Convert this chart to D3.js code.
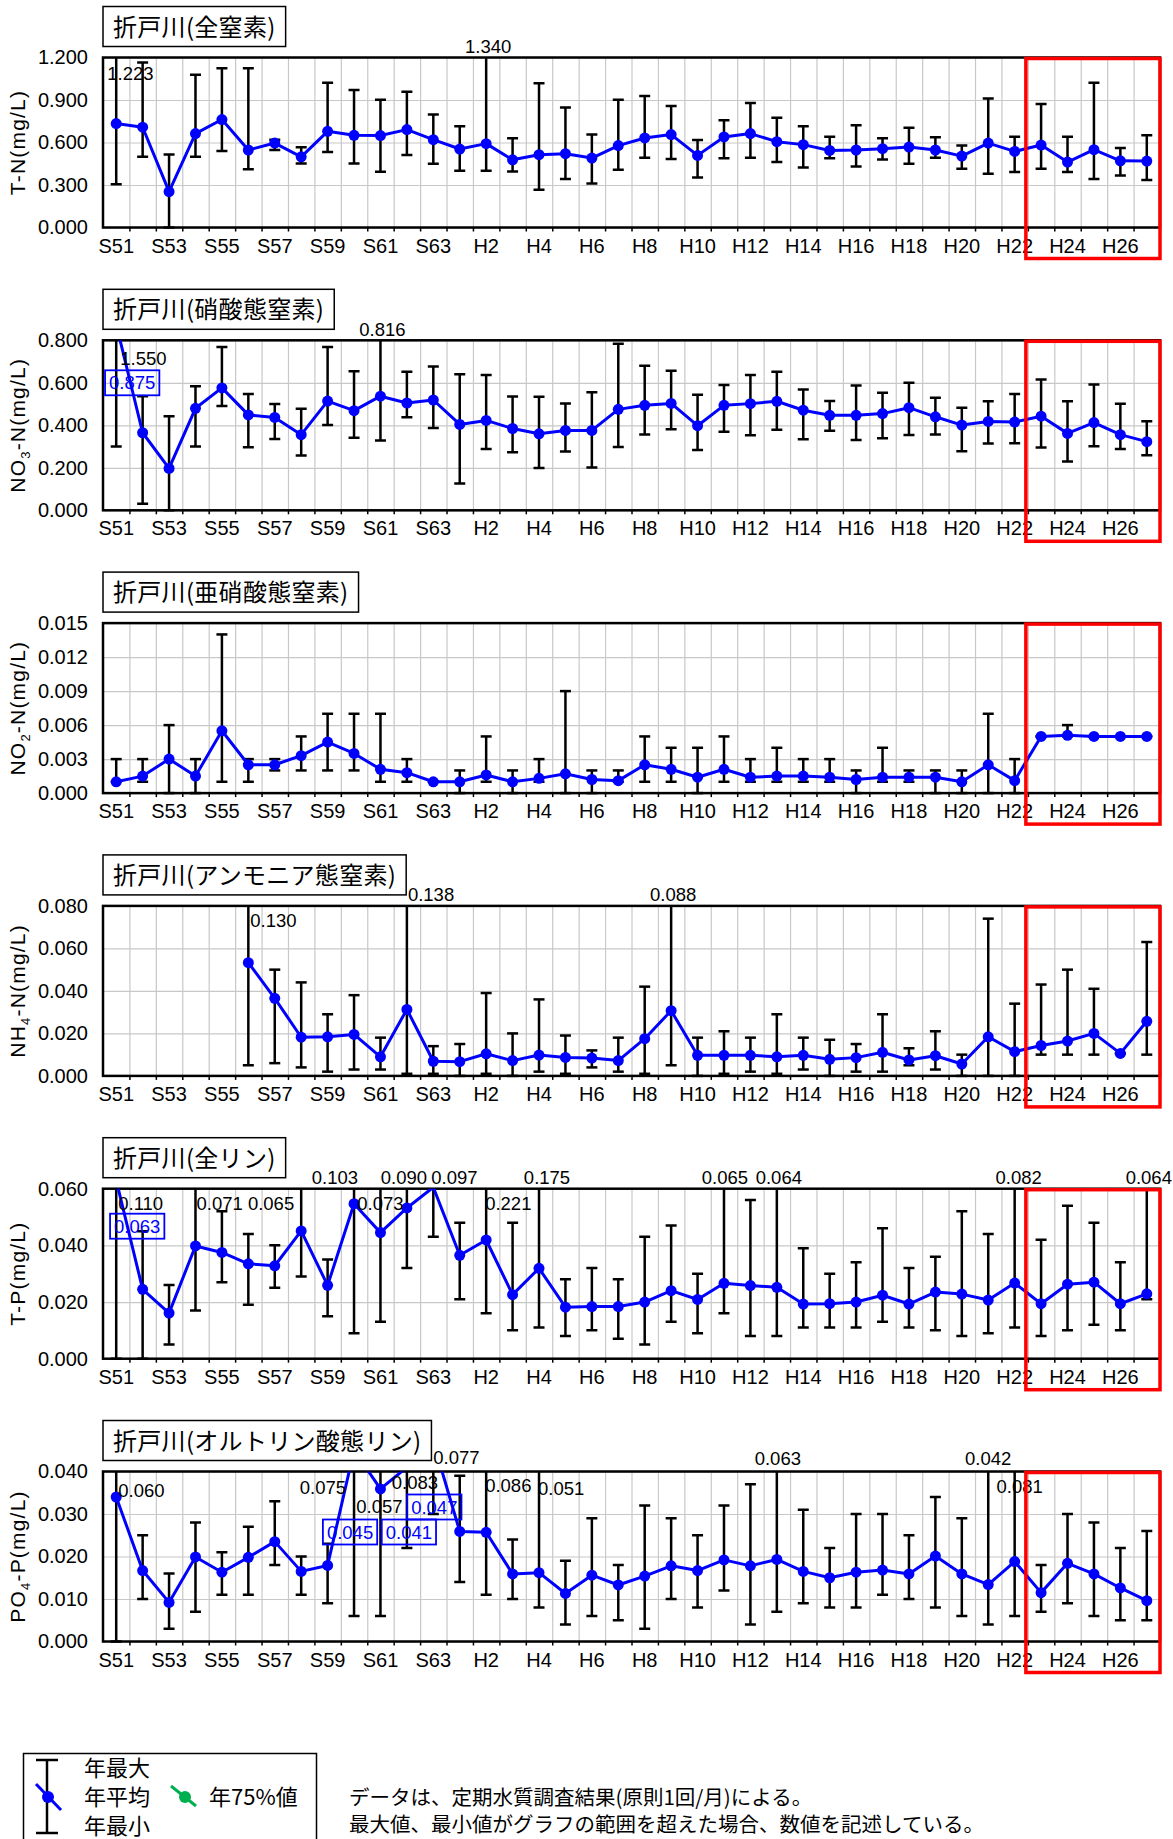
<!DOCTYPE html>
<html>
<head>
<meta charset="UTF-8" />
<title>折戸川 水質経年変化</title>
<script src="https://cdn.jsdelivr.net/npm/d3@7"></script>
<style>
body { margin: 0; background: #fff; }
</style>
</head>
<body>
<svg id="chart" width="1173" height="1839"></svg>

<script type="text/javascript">
// years on the x axis (S = 昭和, H = 平成)
const years = ["S51","S52","S53","S54","S55","S56","S57","S58","S59","S60","S61","S62","S63",
  "H1","H2","H3","H4","H5","H6","H7","H8","H9","H10","H11","H12","H13","H14","H15","H16","H17",
  "H18","H19","H20","H21","H22","H23","H24","H25","H26","H27"]
const xTickLabels = ["S51","S53","S55","S57","S59","S61","S63","H2","H4","H6","H8","H10","H12",
  "H14","H16","H18","H20","H22","H24","H26"]

// 全窒素
const tnMean = [0.734,0.708,0.253,0.663,0.762,0.547,0.596,0.499,0.679,0.651,0.649,0.691,0.620,
  0.554,0.592,0.478,0.514,0.521,0.490,0.578,0.632,0.656,0.509,0.639,0.663,0.606,0.585,0.544,0.547,
  0.556,0.568,0.547,0.504,0.596,0.537,0.582,0.462,0.549,0.471,0.469]
const tnMax = [1.223,1.164,0.516,1.079,1.124,1.124,0.620,0.566,1.022,0.970,0.902,0.959,0.798,
  0.715,1.340,0.630,1.018,0.847,0.656,0.902,0.928,0.857,0.618,0.757,0.878,0.774,0.715,0.641,0.722,
  0.630,0.705,0.637,0.578,0.911,0.641,0.871,0.641,1.022,0.561,0.651]
const tnMin = [0.305,0.499,0.000,0.499,0.540,0.412,0.547,0.452,0.533,0.452,0.393,0.511,0.450,
  0.400,0.400,0.395,0.267,0.343,0.310,0.407,0.492,0.483,0.353,0.488,0.492,0.462,0.424,0.488,0.431,
  0.480,0.450,0.492,0.414,0.379,0.391,0.414,0.391,0.343,0.367,0.336]
const tnTicks = [0, 0.3, 0.6, 0.9, 1.2]
const tnNotes = [["S51","1.223"],["H2","1.340"]]
const tnBoxes = []

// 硝酸態窒素
const no3Mean = [0.875,0.365,0.197,0.480,0.576,0.449,0.437,0.356,0.514,0.469,0.537,0.505,0.519,
  0.404,0.423,0.385,0.360,0.376,0.376,0.475,0.494,0.503,0.398,0.494,0.502,0.513,0.471,0.447,0.447,
  0.455,0.483,0.440,0.401,0.418,0.415,0.443,0.362,0.413,0.356,0.323]
const no3Max = [1.550,0.537,0.443,0.584,0.769,0.547,0.500,0.478,0.769,0.654,0.816,0.652,0.677,
  0.640,0.637,0.536,0.534,0.503,0.556,0.784,0.680,0.657,0.544,0.590,0.637,0.652,0.569,0.514,0.587,
  0.553,0.600,0.530,0.483,0.513,0.547,0.615,0.513,0.592,0.502,0.419]
const no3Min = [0.300,0.031,0.000,0.300,0.491,0.297,0.336,0.258,0.401,0.342,0.328,0.438,0.387,
  0.126,0.289,0.273,0.199,0.277,0.202,0.298,0.357,0.382,0.284,0.370,0.353,0.379,0.334,0.374,0.331,
  0.339,0.354,0.357,0.278,0.314,0.315,0.295,0.230,0.301,0.289,0.259]
const no3Ticks = [0, 0.2, 0.4, 0.6, 0.8]
const no3Notes = [["S51","1.550"],["S61","0.816"]]
const no3Boxes = [["S51","0.875"]]

// 亜硝酸態窒素
const no2Mean = [0.0010,0.0015,0.0030,0.0015,0.0055,0.0025,0.0025,0.0033,0.0045,0.0035,0.0021,0.0018,0.0010,
  0.0010,0.0016,0.0010,0.0013,0.0017,0.0012,0.0011,0.0025,0.0021,0.0014,0.0021,0.0014,0.0015,0.0015,0.0014,0.0012,
  0.0014,0.0014,0.0014,0.0010,0.0025,0.0011,0.0050,0.0051,0.0050,0.0050,0.0050]
const no2Max = [0.003,0.003,0.006,0.003,0.014,0.003,0.003,0.005,0.007,0.007,0.007,0.003,0.001,
  0.002,0.005,0.002,0.003,0.009,0.002,0.002,0.005,0.004,0.004,0.005,0.003,0.004,0.003,0.003,0.002,
  0.004,0.002,0.002,0.002,0.007,0.003,0.005,0.006,0.005,0.005,0.005]
const no2Min = [0.001,0.001,0.000,0.000,0.001,0.001,0.002,0.002,0.002,0.002,0.001,0.001,0.001,
  0.000,0.001,0.000,0.001,0.000,0.000,0.001,0.001,0.001,0.000,0.001,0.001,0.001,0.001,0.001,0.000,
  0.001,0.001,0.000,0.000,0.000,0.000,0.005,0.005,0.005,0.005,0.005]
const no2Ticks = [0, 0.003, 0.006, 0.009, 0.012, 0.015]
const no2Notes = []
const no2Boxes = []

// アンモニア態窒素 (S51-S55 no data)
const nh4Mean = [null,null,null,null,null,0.0533,0.0365,0.0182,0.0184,0.0195,0.0090,0.0313,0.0069,
  0.0067,0.0104,0.0072,0.0098,0.0087,0.0084,0.0072,0.0175,0.0307,0.0097,0.0097,0.0097,0.0090,0.0097,0.0078,0.0086,
  0.0111,0.0075,0.0095,0.0056,0.0184,0.0114,0.0143,0.0164,0.0200,0.0106,0.0257]
const nh4Max = [null,null,null,null,null,0.130,0.050,0.044,0.029,0.038,0.018,0.138,0.014,
  0.015,0.039,0.020,0.036,0.019,0.012,0.018,0.042,0.088,0.018,0.021,0.018,0.029,0.018,0.017,0.015,
  0.029,0.013,0.021,0.010,0.074,0.034,0.043,0.050,0.041,0.0106,0.063]
const nh4Min = [null,null,null,null,null,0.005,0.006,0.004,0.002,0.003,0.003,0.001,0.001,
  0.000,0.001,0.000,0.002,0.001,0.004,0.002,0.001,0.005,0.000,0.001,0.002,0.001,0.003,0.000,0.002,
  0.002,0.005,0.003,0.000,0.000,0.000,0.010,0.010,0.010,0.0106,0.010]
const nh4Ticks = [0, 0.02, 0.04, 0.06, 0.08]
const nh4Notes = [["S56","0.130"],["S62","0.138"],["H9","0.088"]]
const nh4Boxes = []

// 全リン
const tpMean = [0.063,0.0245,0.0161,0.0398,0.0375,0.0335,0.0328,0.0451,0.0259,0.0547,0.0445,0.0532,0.0605,
  0.0365,0.0419,0.0226,0.0319,0.0182,0.0184,0.0184,0.0200,0.0240,0.0209,0.0266,0.0258,0.0252,0.0193,0.0194,0.0200,
  0.0224,0.0193,0.0235,0.0228,0.0207,0.0267,0.0194,0.0263,0.0270,0.0194,0.0229]
const tpMax = [0.110,0.045,0.026,0.071,0.052,0.044,0.040,0.065,0.035,0.103,0.073,0.090,0.097,
  0.048,0.221,0.048,0.175,0.028,0.032,0.028,0.043,0.047,0.030,0.065,0.056,0.064,0.039,0.030,0.034,
  0.046,0.032,0.036,0.052,0.044,0.082,0.042,0.054,0.048,0.034,0.064]
const tpMin = [0.000,0.000,0.005,0.017,0.027,0.019,0.025,0.029,0.015,0.009,0.013,0.032,0.043,
  0.021,0.016,0.010,0.011,0.008,0.010,0.007,0.005,0.013,0.009,0.016,0.008,0.008,0.011,0.011,0.011,
  0.013,0.011,0.010,0.008,0.009,0.011,0.008,0.010,0.012,0.010,0.021]
const tpTicks = [0, 0.02, 0.04, 0.06]
const tpNotes = [["S51","0.110"],["S54","0.071"],["S58","0.065"],["S60","0.103"],["S61","0.073"],
  ["S62","0.090"],["S63","0.097"],["H2","0.221"],["H4","0.175"],["H11","0.065"],["H13","0.064"],
  ["H22","0.082"],["H27","0.064"]]
const tpBoxes = [["S51","0.063"]]

// オルトリン酸態リン
const po4Mean = [0.0340,0.0167,0.0092,0.0199,0.0163,0.0198,0.0235,0.0165,0.0179,0.045,0.0359,0.041,0.047,
  0.0259,0.0257,0.0159,0.0162,0.0113,0.0156,0.0133,0.0154,0.0178,0.0167,0.0192,0.0178,0.0193,0.0165,0.0150,0.0163,
  0.0168,0.0159,0.0201,0.0159,0.0134,0.0188,0.0115,0.0184,0.0159,0.0126,0.0096]
const po4Max = [0.060,0.025,0.016,0.028,0.021,0.027,0.033,0.020,0.023,0.075,0.057,0.083,0.077,
  0.039,0.086,0.024,0.051,0.019,0.029,0.018,0.032,0.029,0.025,0.032,0.037,0.063,0.031,0.022,0.030,
  0.030,0.025,0.034,0.029,0.042,0.081,0.018,0.030,0.028,0.022,0.026]
const po4Min = [0.000,0.010,0.003,0.007,0.011,0.011,0.018,0.011,0.009,0.006,0.006,0.022,0.030,
  0.014,0.011,0.010,0.008,0.004,0.006,0.005,0.003,0.010,0.008,0.012,0.004,0.007,0.009,0.008,0.008,
  0.011,0.010,0.008,0.006,0.004,0.006,0.007,0.009,0.006,0.005,0.005]
const po4Ticks = [0, 0.01, 0.02, 0.03, 0.04]
const po4Notes = [["S51","0.060"],["S60","0.075"],["S61","0.057"],["S62","0.083"],["S63","0.077"],
  ["H2","0.086"],["H4","0.051"],["H13","0.063"],["H21","0.042"],["H22","0.081"]]
const po4Boxes = [["S60","0.045"],["S62","0.041"],["S63","0.047"]]

// where the hand placed value labels sit: [anchor, dx from year centre, dy from plot top]
const tnNotePos = [["start",-9,22],["middle",2,-5]]
const no3NotePos = [["start",4,25],["middle",2,-4]]
const no3BoxPos = [[16,30]]
const nh4NotePos = [["start",2,21],["start",1,-5],["middle",2,-5]]
const tpNotePos = [["start",2,21],["start",1,21],["end",-7,21],["end",4,-5],["middle",0,21],
  ["middle",-3,-5],["start",-2,-5],["start",-1,21],["middle",8,-5],["middle",1,-5],["middle",2,-5],
  ["middle",4,-5],["middle",2,-5]]
const tpBoxPos = [[21,25]]
const po4NotePos = [["start",2,25],["end",-8,22],["middle",-1,41],["middle",8,17],["start",0,-8],
  ["start",-1,20],["start",-1,23],["middle",1,-7],["middle",0,-7],["middle",5,21]]
const po4BoxPos = [[-4,48],[2,48],[1,23]]

const panels = [
  {title:"折戸川(全窒素)", ylab:[["T-N(mg/L)",false]], ymax:1.2, ticks:tnTicks,
    mean:tnMean, max:tnMax, min:tnMin, notes:tnNotes, notePos:tnNotePos, boxes:tnBoxes, boxPos:[]},
  {title:"折戸川(硝酸態窒素)", ylab:[["NO",false],["3",true],["-N(mg/L)",false]], ymax:0.8, ticks:no3Ticks,
    mean:no3Mean, max:no3Max, min:no3Min, notes:no3Notes, notePos:no3NotePos, boxes:no3Boxes, boxPos:no3BoxPos},
  {title:"折戸川(亜硝酸態窒素)", ylab:[["NO",false],["2",true],["-N(mg/L)",false]], ymax:0.015, ticks:no2Ticks,
    mean:no2Mean, max:no2Max, min:no2Min, notes:no2Notes, notePos:[], boxes:no2Boxes, boxPos:[]},
  {title:"折戸川(アンモニア態窒素)", ylab:[["NH",false],["4",true],["-N(mg/L)",false]], ymax:0.08, ticks:nh4Ticks,
    mean:nh4Mean, max:nh4Max, min:nh4Min, notes:nh4Notes, notePos:nh4NotePos, boxes:nh4Boxes, boxPos:[]},
  {title:"折戸川(全リン)", ylab:[["T-P(mg/L)",false]], ymax:0.06, ticks:tpTicks,
    mean:tpMean, max:tpMax, min:tpMin, notes:tpNotes, notePos:tpNotePos, boxes:tpBoxes, boxPos:tpBoxPos},
  {title:"折戸川(オルトリン酸態リン)", ylab:[["PO",false],["4",true],["-P(mg/L)",false]], ymax:0.04, ticks:po4Ticks,
    mean:po4Mean, max:po4Max, min:po4Min, notes:po4Notes, notePos:po4NotePos, boxes:po4Boxes, boxPos:po4BoxPos}
]

// layout
const X0 = 103, X1 = 1160
const TOP0 = 57.5, STEP = 282.8, PH = 170
const LATIN = "'Liberation Sans', Arial, sans-serif"
const JP = "'Noto Sans CJK JP', sans-serif"
const BLUE = "#0000ff"
const fmt = d3.format(".3f")

const svg = d3.select("#chart")
const defs = svg.append("defs")

const x = d3.scaleBand().domain(years).range([X0, X1])
const xEdge = d3.scaleLinear().domain([0, years.length]).range([X0, X1])
const cx = c => x(c) + x.bandwidth() / 2

panels.forEach((p, i) => {
	const top = TOP0 + i * STEP, bottom = top + PH
	const y = d3.scaleLinear().domain([0, p.ymax]).range([bottom, top])
	const data = years.map((c, k) => ({cat: c, mean: p.mean[k], max: p.max[k], min: p.min[k]}))
		.filter(d => d.mean != null)
	const g = svg.append("g")

	defs.append("clipPath").attr("id", "clipL" + i).append("rect")
		.attr("x", X0).attr("y", top).attr("width", X1 - X0).attr("height", PH)
	defs.append("clipPath").attr("id", "clipE" + i).append("rect")
		.attr("x", X0 - 10).attr("y", top).attr("width", X1 - X0 + 20).attr("height", PH + 5)

	// grid
	g.append("g").attr("transform", `translate(${X0},0)`)
		.call(d3.axisLeft(y).tickValues(p.ticks).tickSize(-(X1 - X0)).tickFormat(""))
		.call(a => a.select(".domain").remove())
		.selectAll("line").attr("stroke", "#c8c8c8").attr("stroke-width", 1.2)
	g.append("g").attr("transform", `translate(0,${bottom})`)
		.call(d3.axisBottom(xEdge).tickValues(d3.range(1, years.length)).tickSize(-PH).tickFormat(""))
		.call(a => a.select(".domain").remove())
		.selectAll("line").attr("stroke", "#c8c8c8").attr("stroke-width", 1.2)
	g.append("g").attr("transform", `translate(0,${bottom})`)
		.call(d3.axisBottom(xEdge).tickValues(d3.range(1, years.length)).tickSize(4).tickFormat(""))
		.call(a => a.select(".domain").remove())
		.selectAll("line").attr("stroke", "#000").attr("stroke-width", 1.5)

	// axes labels
	const ya = g.append("g").attr("transform", `translate(${X0},0)`)
		.call(d3.axisLeft(y).tickValues(p.ticks).tickFormat(fmt).tickSize(0).tickPadding(15))
	ya.select(".domain").remove()
	ya.selectAll("text").attr("font-size", 20).attr("font-family", LATIN).attr("fill", "#000")

	const xa = g.append("g").attr("transform", `translate(0,${bottom})`)
		.call(d3.axisBottom(x).tickValues(xTickLabels).tickSize(0).tickPadding(11))
	xa.select(".domain").remove()
	xa.selectAll("text").attr("font-size", 20).attr("font-family", LATIN).attr("fill", "#000")

	const yt = g.append("text")
		.attr("transform", `translate(25,${(top + bottom) / 2}) rotate(-90)`)
		.attr("text-anchor", "middle").attr("font-family", LATIN).attr("font-size", 21)
		.attr("letter-spacing", 1.2)
	p.ylab.forEach(([t, sub], k) => {
		const ts = yt.append("tspan").text(t)
		if (sub) ts.attr("font-size", 13).attr("dy", 5)
		else if (k > 0) ts.attr("dy", -5)
	})

	// plot frame
	g.append("rect").attr("x", X0).attr("y", top).attr("width", X1 - X0).attr("height", PH)
		.attr("fill", "none").attr("stroke", "#000").attr("stroke-width", 2.5)

	// error bars (年最大 / 年最小)
	const eb = g.append("g").attr("clip-path", `url(#clipE${i})`)
		.attr("stroke", "#000").attr("stroke-width", 2.5)
	eb.selectAll(".v").data(data).join("line")
		.attr("x1", d => cx(d.cat)).attr("x2", d => cx(d.cat))
		.attr("y1", d => y(d.max)).attr("y2", d => y(d.min))
	eb.selectAll(".ct").data(data).join("line")
		.attr("x1", d => cx(d.cat) - 5.5).attr("x2", d => cx(d.cat) + 5.5)
		.attr("y1", d => y(d.max)).attr("y2", d => y(d.max))
	eb.selectAll(".cb").data(data).join("line")
		.attr("x1", d => cx(d.cat) - 5.5).attr("x2", d => cx(d.cat) + 5.5)
		.attr("y1", d => y(d.min)).attr("y2", d => y(d.min))

	// 年平均 line + markers
	const line = d3.line().x(d => cx(d.cat)).y(d => y(d.mean))
	g.append("path").attr("clip-path", `url(#clipL${i})`)
		.attr("d", line(data)).attr("fill", "none")
		.attr("stroke", BLUE).attr("stroke-width", 3).attr("stroke-linejoin", "round")
	g.selectAll(".dot").data(data.filter(d => d.mean <= p.ymax)).join("circle")
		.attr("cx", d => cx(d.cat)).attr("cy", d => y(d.mean)).attr("r", 5.5).attr("fill", BLUE)

	// values beyond the axis
	p.notes.forEach(([c, t], k) => {
		const [anchor, dx, dy] = p.notePos[k]
		g.append("text").attr("x", cx(c) + dx).attr("y", top + dy)
			.attr("text-anchor", anchor).attr("font-family", LATIN).attr("font-size", 18.5)
			.attr("fill", "#000").text(t)
	})
	p.boxes.forEach(([c, t], k) => {
		const [dx, dy] = p.boxPos[k]
		const tx = g.append("text").attr("x", cx(c) + dx).attr("y", top + dy + 19)
			.attr("text-anchor", "middle").attr("font-family", LATIN).attr("font-size", 18.5)
			.attr("fill", BLUE).text(t)
		const bb = tx.node().getBBox()
		g.insert("rect", () => tx.node())
			.attr("x", bb.x - 4).attr("y", top + dy).attr("width", bb.width + 8).attr("height", 25)
			.attr("fill", "none").attr("stroke", BLUE).attr("stroke-width", 1.8)
	})

	// H23-H27 highlight
	g.append("rect").attr("x", xEdge(35) - 2).attr("y", top + 1)
		.attr("width", X1 - xEdge(35) + 2).attr("height", 200)
		.attr("fill", "none").attr("stroke", "#ff0000").attr("stroke-width", 3.5)

	// title box
	const tt = g.append("text").attr("x", X0 + 10).attr("y", top - 22)
		.attr("font-family", JP).attr("font-size", 24).attr("letter-spacing", 0.3)
		.attr("fill", "#000").text(p.title)
	const tb = tt.node().getBBox()
	g.insert("rect", () => tt.node())
		.attr("x", X0).attr("y", top - 51).attr("width", tb.width + 20).attr("height", 40)
		.attr("fill", "#fff").attr("stroke", "#000").attr("stroke-width", 1.5)
})

// legend
const lg = svg.append("g")
lg.append("rect").attr("x", 23.5).attr("y", 1753.5).attr("width", 293).attr("height", 100)
	.attr("fill", "#fff").attr("stroke", "#000").attr("stroke-width", 1.5)
lg.append("line").attr("x1", 47).attr("x2", 47).attr("y1", 1760).attr("y2", 1833)
	.attr("stroke", "#000").attr("stroke-width", 2.5)
lg.append("line").attr("x1", 36).attr("x2", 58).attr("y1", 1760).attr("y2", 1760)
	.attr("stroke", "#000").attr("stroke-width", 2.5)
lg.append("line").attr("x1", 36).attr("x2", 58).attr("y1", 1833).attr("y2", 1833)
	.attr("stroke", "#000").attr("stroke-width", 2.5)
lg.append("line").attr("x1", 36).attr("x2", 61).attr("y1", 1784).attr("y2", 1810)
	.attr("stroke", BLUE).attr("stroke-width", 3)
lg.append("circle").attr("cx", 48).attr("cy", 1797).attr("r", 6).attr("fill", BLUE)
lg.append("line").attr("x1", 171).attr("x2", 196).attr("y1", 1786).attr("y2", 1806)
	.attr("stroke", "#00b050").attr("stroke-width", 3)
lg.append("circle").attr("cx", 185).attr("cy", 1797).attr("r", 6).attr("fill", "#00b050")
const legendItems = [["年最大", 84, 1768], ["年平均", 84, 1797], ["年最小", 84, 1826], ["年75%値", 209, 1797]]
lg.selectAll(".lt").data(legendItems).join("text")
	.attr("x", d => d[1]).attr("y", d => d[2] + 8)
	.attr("font-family", JP).attr("font-size", 22).attr("fill", "#000").text(d => d[0])

const footnotes = ["データは、定期水質調査結果(原則1回/月)による。",
	"最大値、最小値がグラフの範囲を超えた場合、数値を記述している。"]
svg.selectAll(".fn").data(footnotes).join("text")
	.attr("x", 349).attr("y", (d, k) => 1805 + k * 27)
	.attr("font-family", JP).attr("font-size", 20.5).attr("fill", "#000").text(d => d)
</script>
</body>
</html>
